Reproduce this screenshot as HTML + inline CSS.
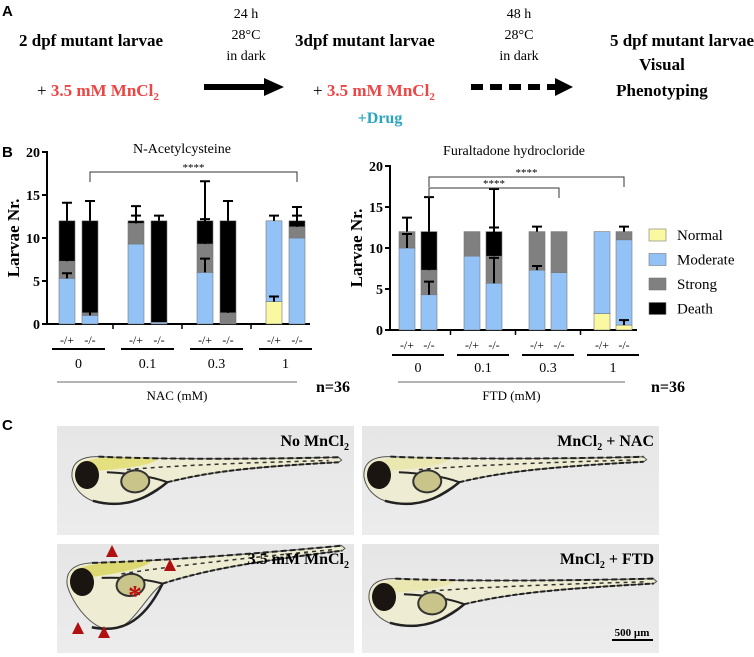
<!DOCTYPE html>
<html><head><meta charset="utf-8"><style>
body{margin:0;background:#fff;width:754px;height:657px;overflow:hidden;font-family:"Liberation Serif",serif}
svg{display:block}
</style></head><body>
<svg id="fig" width="754" height="657" viewBox="0 0 754 657" xmlns="http://www.w3.org/2000/svg" font-family="Liberation Serif, serif">
<g>
<text x="2" y="16" font-family="Liberation Sans, sans-serif" font-weight="bold" font-size="15">A</text>
<text x="19" y="46" font-weight="bold" font-size="17">2 dpf mutant larvae</text>
<text x="37" y="96" font-size="17" font-weight="bold"><tspan font-weight="normal">+ </tspan><tspan fill="#ee4444">3.5 mM MnCl<tspan font-size="11" dy="4">2</tspan></tspan></text>
<g font-size="14" text-anchor="middle">
<text x="246" y="18">24 h</text><text x="246" y="39">28°C</text><text x="246" y="60">in dark</text></g>
<g><rect x="204" y="84" width="63" height="6" fill="#000"/><polygon points="264,78 284,87 264,96" fill="#000"/></g>
<text x="295" y="46" font-weight="bold" font-size="17">3dpf mutant larvae</text>
<text x="313" y="96" font-size="17" font-weight="bold"><tspan font-weight="normal">+ </tspan><tspan fill="#ee4444">3.5 mM MnCl<tspan font-size="11" dy="4">2</tspan></tspan></text>
<text x="380" y="123" text-anchor="middle" font-weight="bold" font-size="16" fill="#2aa5c0">+Drug</text>
<g font-size="14" text-anchor="middle">
<text x="519" y="18">48 h</text><text x="519" y="39">28°C</text><text x="519" y="60">in dark</text></g>
<g><line x1="471" y1="87" x2="556" y2="87" stroke="#000" stroke-width="6" stroke-dasharray="12,7"/><polygon points="555,78 573,87 555,96" fill="#000"/></g>
<text x="754" y="46" text-anchor="end" font-weight="bold" font-size="17">5 dpf mutant larvae</text>
<text x="662" y="70" text-anchor="middle" font-weight="bold" font-size="17">Visual</text>
<text x="662" y="96" text-anchor="middle" font-weight="bold" font-size="17">Phenotyping</text>
</g>
<text x="2" y="157" font-family="Liberation Sans, sans-serif" font-weight="bold" font-size="15">B</text>
<g id="chartL"></g>
<g id="chartR"></g>
<g id="legend"></g>
<text x="316" y="392" font-weight="bold" font-size="16">n=36</text>
<text x="651" y="392" font-weight="bold" font-size="16">n=36</text>
<text x="2" y="430" font-family="Liberation Sans, sans-serif" font-weight="bold" font-size="15">C</text>
<g id="panelC"></g>
</svg>
<script>
const NS="http://www.w3.org/2000/svg";
function mk(parent,tag,attrs,txt){const e=document.createElementNS(NS,tag);for(const k in attrs)e.setAttribute(k,attrs[k]);if(txt!==undefined)e.textContent=txt;parent.appendChild(e);return e;}

const groupsL=["0","0.1","0.3","1"];
const genotypes=["-/+","-/-"];
const yTicks=[0,5,10,15,20];
const normalL=[0,0,0,0,0,0,2.6,0];
const moderateL=[5.3,1.0,9.3,0.2,6.0,0,9.4,10];
const strongL=[2.0,0.3,2.4,0,3.3,1.3,0,1.3];
const deathL=[4.7,10.7,0.3,11.8,2.7,10.7,0,0.7];
const errNormalL=[0,0,0,0,0,0,0.6,0];
const errModerateL=[0.6,0.8,0,0,1.6,0,0.6,0];
const errStrongL=[2.0,0,0.9,0,2.9,2.3,0,1.3];
const errDeathL=[2.1,2.3,1.7,0.6,4.6,2.3,0,1.6];

const groupsR=["0","0.1","0.3","1"];
const normalR=[0,0,0,0,0,0,2,0.6];
const moderateR=[10,4.3,9,5.7,7.3,7,10,10.4];
const strongR=[2,3,3,3.3,4.7,5,0,1];
const deathR=[0,4.7,0,3,0,0,0,0];
const errNormalR=[0,0,0,0,0,0,0,0.6];
const errModerateR=[1.7,1.6,0,3.1,0.5,0,0,0];
const errStrongR=[1.7,2.7,0,3.5,0.6,0,0,0.6];
const errDeathR=[0,4.2,0,5.2,0,0,0,0];

const seriesNames=["Normal","Moderate","Strong","Death"];
const colors=["#fbf8a2","#93c2f7","#808080","#000000"];

function drawChart(g,cfg){
  const y=v=>cfg.y0-v*cfg.k;
  const x=i=>cfg.x0+Math.floor(i/2)*cfg.gap+(i%2)*cfg.sub;
  const bw=16;
  const t=mk(g,"text",{x:cfg.tx,y:cfg.ty,"text-anchor":"middle","font-size":14});t.textContent=cfg.title;
  
  
  mk(g,"line",{x1:cfg.ax,y1:y(20)-1,x2:cfg.ax,y2:cfg.y0+1,stroke:"#000","stroke-width":2});
  yTicks.forEach(v=>{
    mk(g,"line",{x1:cfg.ax-5,y1:y(v),x2:cfg.ax,y2:y(v),stroke:"#000","stroke-width":2});
    const tl=mk(g,"text",{x:cfg.ax-7,y:y(v)+5,"text-anchor":"end","font-size":14,"font-weight":"bold"},String(v));
    
    
  });
  const yt=mk(g,"text",{x:0,y:0,transform:`translate(${cfg.ax-28},${y(10)}) rotate(-90)`,"text-anchor":"middle","font-size":17,"font-weight":"bold"},"Larvae Nr.");
  
  
  mk(g,"line",{x1:cfg.ax-1,y1:cfg.y0,x2:cfg.axEnd,y2:cfg.y0,stroke:"#000","stroke-width":2});
  for(let gi=0;gi<3;gi++){
    const sx=(x(gi*2+1)+bw+x(gi*2+2))/2;
    mk(g,"line",{x1:sx,y1:cfg.y0,x2:sx,y2:cfg.y0+5,stroke:"#000","stroke-width":1.5});
  }
  const n=cfg.series[0].length;
  for(let i=0;i<n;i++){
    let base=0;const tops=[];
    cfg.series.forEach((s,si)=>{
      const v=s[i];
      if(v>0){
        const r=mk(g,"rect",{x:x(i),y:y(base+v),width:bw,height:v*cfg.k,fill:colors[si],stroke:"#777","stroke-width":0.6});
        
        
      }
      base+=v;tops.push(base);
    });
    cfg.errs.forEach((e,si)=>{
      const ev=e[i];if(ev<=0)return;
      const cx=x(i)+bw/2,t0=tops[si],t1=t0+ev;
      const eb=mk(g,"path",{d:`M${cx},${y(t0)}V${y(t1)}M${cx-5},${y(t1)}H${cx+5}`,stroke:"#000","stroke-width":2,fill:"none"});
      
      
    });
    const lb=mk(g,"text",{x:x(i)+bw/2,y:cfg.labY,"text-anchor":"middle","font-size":12},genotypes[i%2]);
    
    
  }
  cfg.groups.forEach((gl,gi)=>{
    const a=x(gi*2)+bw/2-15,b=x(gi*2+1)+bw/2+15;
    mk(g,"line",{x1:a,y1:cfg.ulY,x2:b,y2:cfg.ulY,stroke:"#000","stroke-width":2});
    const tl=mk(g,"text",{x:(a+b)/2,y:cfg.grY,"text-anchor":"middle","font-size":14},gl);
    
    
  });
  mk(g,"line",{x1:cfg.xl1,y1:382,x2:cfg.xl2,y2:382,stroke:"#888","stroke-width":1.2});
  const xt=mk(g,"text",{x:(cfg.xl1+cfg.xl2)/2,y:400,"text-anchor":"middle","font-size":13},cfg.xtitle);
  
  
  cfg.brackets.forEach(bk=>{
    const a=x(bk[0])+bw/2,b=x(bk[1])+bw/2;
    mk(g,"path",{d:`M${a},${bk[2]+10}V${bk[2]}H${b}V${bk[2]+10}`,stroke:"#333","stroke-width":1,fill:"none"});
    const s=mk(g,"text",{x:(a+b)/2,y:bk[2]-1,"text-anchor":"middle","font-size":11},"****");
    
    
  });
}
drawChart(document.getElementById("chartL"),{y0:324,k:8.6,x0:59,gap:69,sub:23,ax:47,axEnd:310,title:"N-Acetylcysteine",tx:182,ty:153,
  series:[normalL,moderateL,strongL,deathL],errs:[errNormalL,errModerateL,errStrongL,errDeathL],groups:groupsL,
  labY:344,ulY:349,grY:368,xl1:57,xl2:297,xtitle:"NAC (mM)",brackets:[[1,7,172]]});
drawChart(document.getElementById("chartR"),{y0:330,k:8.2,x0:399,gap:65,sub:22,ax:390,axEnd:637,title:"Furaltadone hydrocloride",tx:514,ty:155,
  series:[normalR,moderateR,strongR,deathR],errs:[errNormalR,errModerateR,errStrongR,errDeathR],groups:groupsR,
  labY:349,ulY:355,grY:372,xl1:398,xl2:625,xtitle:"FTD (mM)",brackets:[[1,5,188],[1,7,177]]});

const lg=document.getElementById("legend");
seriesNames.forEach((nm,i)=>{
  const yy=235+i*24.5;
  const r=mk(lg,"rect",{x:649,y:yy-6,width:17,height:12,fill:colors[i],stroke:"#777","stroke-width":0.6});
  
  
  const t=mk(lg,"text",{x:677,y:yy+5,"font-size":15},nm);
  
  
});

const pc=document.getElementById("panelC");
const defs=mk(pc,"defs",{});
const lgd=mk(defs,"linearGradient",{id:"bg",x1:0,y1:0,x2:0,y2:1});
mk(lgd,"stop",{offset:"0","stop-color":"#e6e6e6"});mk(lgd,"stop",{offset:"1","stop-color":"#ececec"});
function fish(ex,ey,len,tilt,yolk,yellow){
  const g=mk(pc,"g",{transform:`translate(${ex},${ey}) rotate(${tilt})`});
  
  
  const L=len;
  mk(g,"path",{d:`M-15,2 C-16,-14 -4,-19 12,-18 C60,-14 ${L*0.6},-10 ${L},-9 L${L+3},-6 L${L},-4 C${L*0.6},-2 120,2 80,10 C60,22 45,${32+yolk} 25,${30+yolk} C5,${30+yolk} -12,20 -15,2Z`,fill:"#eeecd2",stroke:"#555","stroke-width":1});
  mk(g,"path",{d:`M-8,-12 C10,-19 40,-17 70,-14 C70,-8 40,-5 10,-4Z`,fill:yellow,opacity:0.8});
  mk(g,"path",{d:`M12,-18 C60,-14 ${L*0.6},-10 ${L},-9`,stroke:"#222","stroke-width":2,fill:"none","stroke-dasharray":"6,3"});
  mk(g,"path",{d:`M40,-4 C80,-6 ${L*0.6},-7 ${L-10},-6`,stroke:"#333","stroke-width":1.5,fill:"none","stroke-dasharray":"4,4"});
  mk(g,"path",{d:`M80,10 C120,2 ${L*0.6},-2 ${L},-4`,stroke:"#222","stroke-width":2,fill:"none","stroke-dasharray":"5,2"});
  mk(g,"path",{d:`M5,${26+yolk} C30,${34+yolk} 55,${30+yolk} 80,10`,stroke:"#222","stroke-width":2.5,fill:"none"});
  mk(g,"path",{d:`M20,-2 C45,0 65,4 80,10`,stroke:"#222","stroke-width":2,fill:"none"});
  mk(g,"ellipse",{cx:48,cy:8,rx:14,ry:11,fill:"#c9c48a",stroke:"#333","stroke-width":2});
  mk(g,"ellipse",{cx:0,cy:0,rx:12,ry:14,fill:"#1a1510"});
}
const panels=[[57,426,"No MnCl","",87,475,252,-2,0,"#e2dd6a"],[362,426,"MnCl","+ NAC",379,475,265,-2,0,"#e8e6a8"],[57,544,"3.5 mM MnCl","",82,582,262,-6,20,"#d8d45a"],[362,544,"MnCl","+ FTD",384,597,270,-2,0,"#e8e6a8"]];
panels.forEach((p,i)=>{
  const r=mk(pc,"rect",{x:p[0],y:p[1],width:297,height:109,fill:"url(#bg)"});
  
  
  fish(p[4],p[5],p[6],p[7],p[8],p[9]);
  const t=mk(pc,"text",{x:p[0]+292,y:p[1]+20,"text-anchor":"end","font-size":16,"font-weight":"bold"});
  
  
  t.appendChild(document.createTextNode(p[2]));
  mk(t,"tspan",{"font-size":10,dy:4},"2");
  if(p[3]) mk(t,"tspan",{dy:-4}," "+p[3]);
});
[[112,551],[170,565],[78,628],[104,632]].forEach(a=>{
  const tr=mk(pc,"polygon",{points:`${a[0]-6},${a[1]+6} ${a[0]+6},${a[1]+6} ${a[0]},${a[1]-6}`,fill:"#b01010"});
  
  
});
const ast=mk(pc,"text",{x:135,y:605,"text-anchor":"middle","font-size":28,"font-weight":"bold",fill:"#c01010"},"*");


const sb=mk(pc,"text",{x:632,y:636,"text-anchor":"middle","font-size":11,"font-weight":"bold"},"500 µm");


mk(pc,"line",{x1:612,y1:640,x2:653,y2:640,stroke:"#000","stroke-width":2});
</script>
</body></html>
